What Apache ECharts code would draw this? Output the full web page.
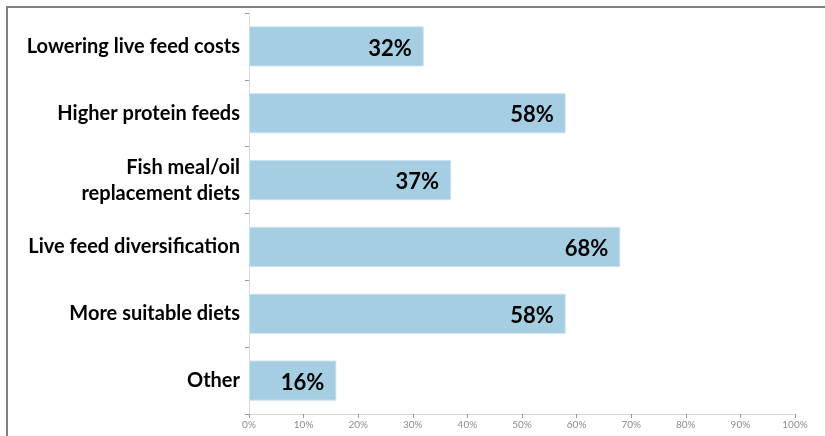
<!DOCTYPE html>
<html>
<head>
<meta charset="utf-8">
<script src="https://cdn.jsdelivr.net/npm/echarts@6/dist/echarts.min.js"></script>
<style>
  html, body { margin: 0; padding: 0; background: #fff; }
  #chart { width: 825px; height: 436px; }
</style>
</head>
<body>
<div id="chart"></div>
<script>
// Survey answers, listed top to bottom
const categories = [
  'Lowering live feed costs',
  'Higher protein feeds',
  'Fish meal/oil\nreplacement diets',
  'Live feed diversification',
  'More suitable diets',
  'Other'
];
const shares = [32, 58, 37, 68, 58, 16];
const tickLabels = ['0%', '10%', '20%', '30%', '40%', '50%', '60%', '70%', '80%', '90%', '100%'];

const chart = echarts.init(document.getElementById('chart'), null, { renderer: 'canvas' });

chart.setOption({
  backgroundColor: '#ffffff',
  animation: false,
  graphic: [{
    type: 'rect',
    shape: { x: 7, y: 7, width: 900, height: 500 },
    style: { fill: 'none', stroke: '#808080', lineWidth: 2 },
    silent: true
  }],
  grid: { left: 249, right: 30, top: 13, bottom: 22, containLabel: false },
  xAxis: {
    type: 'value',
    min: 0,
    max: 100,
    interval: 10,
    axisLine: { show: true, lineStyle: { color: '#d9d9d9', width: 1 } },
    axisTick: { show: true, length: 4, lineStyle: { color: '#999999' } },
    splitLine: { show: false },
    axisLabel: {
      color: '#8c8c8c',
      fontFamily: 'Lato',
      fontSize: 10,
      margin: 6,
      formatter: (v) => tickLabels[Math.round(v / 10)]
    }
  },
  yAxis: {
    type: 'category',
    inverse: true,
    data: categories,
    axisLine: { show: true, lineStyle: { color: '#d9d9d9', width: 1 } },
    axisTick: { show: true, length: 4, lineStyle: { color: '#999999' } },
    axisLabel: {
      color: '#000000',
      fontFamily: 'Lato',
      fontWeight: 'bold',
      fontSize: 20,
      lineHeight: 26,
      margin: 9
    }
  },
  series: [{
    type: 'bar',
    data: shares,
    barCategoryGap: '40%',
    itemStyle: { color: '#a6cee3', borderColor: '#c9e2ef', borderWidth: 1 },
    label: {
      show: true,
      position: 'insideRight',
      distance: 12,
      offset: [0, 2],
      formatter: (p) => p.value + '%',
      color: '#000000',
      fontFamily: 'Lato',
      fontWeight: 'bold',
      fontSize: 22
    }
  }]
});
</script>
</body>
</html>
